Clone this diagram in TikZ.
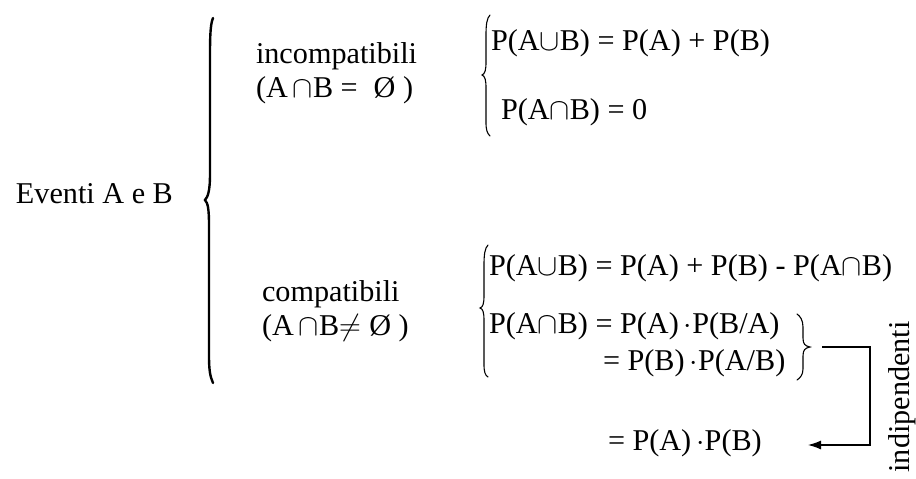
\RequirePackage{fix-cm}
\documentclass[tikz,border=0pt]{standalone}
\usepackage{fontspec}
\setmainfont{Liberation Serif}
\usetikzlibrary{arrows.meta}
\newcommand{\ucup}{$\mathord{\cup}$}
\newcommand{\ucap}{$\mathord{\cap}$}
\newcommand{\udot}{\,$\mathord{\cdot}$}
\begin{document}
\begin{tikzpicture}[x=1pt,y=-1pt,
  txt/.style={inner sep=0pt, outer sep=0pt, anchor=base west, font=\fontsize{30.2}{36}\selectfont},
  bigbrace/.style={line width=2.4pt, line cap=round},
  smallbrace/.style={line width=1.1pt, line cap=round},
  link/.style={line width=1.2pt, -{Latex[length=13pt,width=9pt]}}]
\useasboundingbox (0,0) rectangle (916,479);

% texts
\node[txt] (ev) at (16,203) {Eventi A e B};
\node[txt] (inc) at (256,63) {incompatibili};
\node[txt] (incc) at (256,97) {(A\,\ucap B = \;Ø )};
\node[txt] (comp) at (262,301) {compatibili};
\node[txt] (compc) at (262,335) {(A\,\ucap B$\mathord{\neq}$\;Ø )};

\node[txt] (e1) at (491,50) {P(A\ucup B) = P(A) + P(B)};
\node[txt] (e2) at (501,119) {P(A\ucap B) = 0};
\node[txt] (e3) at (489,275) {P(A\ucup B) = P(A) + P(B) - P(A\ucap B)};
\node[txt] (e4) at (489,333) {P(A\ucap B) = P(A)\udot P(B/A)};
\node[txt] (e5) at (603,370) {= P(B)\udot P(A/B)};
\node[txt] (e6) at (608,450) {= P(A)\udot P(B)};
\node[txt, rotate=90, anchor=base] (ind) at (909,397) {indipendenti};

% big brace
\draw[bigbrace] (213,18) .. controls (210,25) and (210,40) .. (210,60) -- (210,175)
  .. controls (210,190) and (208,197) .. (205,200)
  .. controls (208,203) and (209,210) .. (209,225) -- (209,355)
  .. controls (209,370) and (210,376) .. (213,383);

% small braces
\draw[smallbrace] (490,15) .. controls (487,18) and (486,24) .. (486,35) -- (486,62)
  .. controls (486,70) and (485,74) .. (482,75)
  .. controls (485,76) and (486,80) .. (486,88) -- (486,122)
  .. controls (486,130) and (487,133) .. (490,136);
\draw[smallbrace] (488,245) .. controls (485,248) and (484,254) .. (484,265) -- (484,295)
  .. controls (484,304) and (483,307) .. (480,308)
  .. controls (483,309) and (484,312) .. (484,321) -- (484,364)
  .. controls (484,372) and (485,375) .. (488,377);
\draw[smallbrace] (797,314) .. controls (800,316) and (803,320) .. (803,327) -- (803,338)
  .. controls (803,344) and (805,346) .. (810,347)
  .. controls (805,348) and (803,350) .. (803,356) -- (803,369)
  .. controls (803,375) and (800,378) .. (797,380);

% connector
\coordinate (s) at (822,347);
\coordinate (t) at (808,445);
\draw[link] (s) -- (870,347) |- (t);
\end{tikzpicture}
\end{document}
